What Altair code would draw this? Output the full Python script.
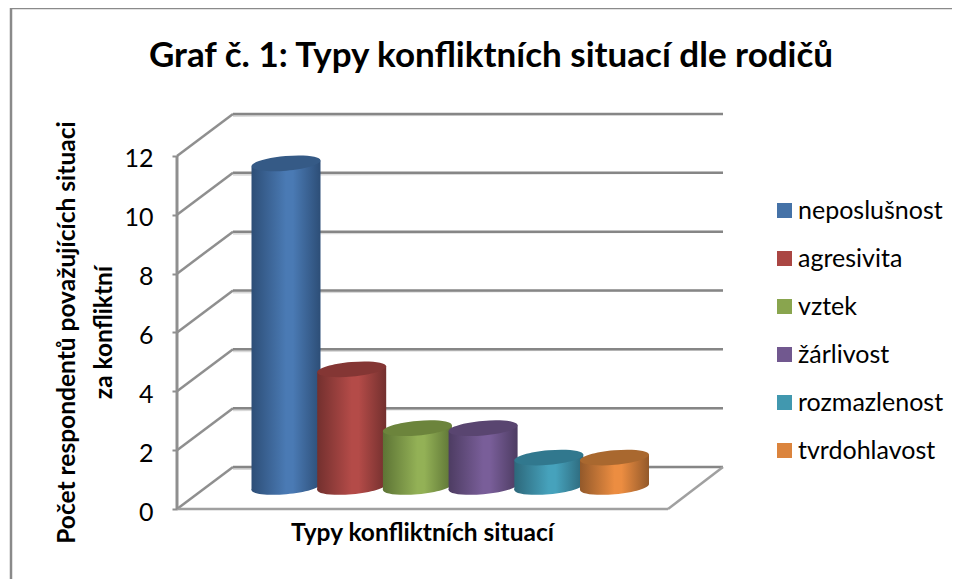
import altair as alt
import pandas as pd

title_text = "Graf č. 1: Typy konfliktních situací dle rodičů"
series = ["neposlušnost", "agresivita", "vztek", "žárlivost", "rozmazlenost", "tvrdohlavost"]
values = [11, 4, 2, 2, 1, 1]
legend_colors = ["#4572A7", "#AA4643", "#89A54E", "#71588F", "#4198AF", "#DB843D"]
edge_colors = ["#2d4e77", "#73302e", "#5d7435", "#4d3c62", "#2d687b", "#93592a"]
mid_colors = ["#4a7ab4", "#b44b48", "#93b156", "#795e99", "#46a2bc", "#ec8d41"]
top_colors = ["#355a86", "#843634", "#6c843c", "#594570", "#31788e", "#a9682f"]
ticks = [0, 2, 4, 6, 8, 10, 12]

# Scales: one x unit is one category step, one y unit is one respondent.
PX_X, PX_Y = 65.7, 29.42
VIEW_W, VIEW_H = 546, 395
X_DOMAIN = [0, VIEW_W / PX_X]
Y_DOMAIN = [0, VIEW_H / PX_Y]
DEPTH_X = 56 / PX_X
DEPTH_Y = 42 / PX_Y
FIRST = 109 / PX_X
RADIUS = 34.5 / PX_X
BASE = 22 / PX_Y
TILT = 3 / PX_Y
FLOOR_RIGHT = 491 / PX_X
WALL_RIGHT = VIEW_W / PX_X

GRID = "#868686"
FONT = "Lato"

y_axis = alt.Axis(
    values=ticks, domain=False, grid=False, tickColor="#8f8f8f", tickSize=5, tickWidth=2,
    labelFont=FONT, labelFontSize=25, labelColor="#000000", labelPadding=19, labelOffset=3,
    title=["Počet respondentů považujících situaci", "za konfliktní"],
    titleFont=FONT, titleFontSize=24.5, titleFontWeight="bold", titleColor="#000000",
    titleX=-110, titleY=218, titleLineHeight=37, titleAngle=270, titleAlign="center", titleBaseline="middle",
)
x_axis = alt.Axis(
    values=[0], domain=False, grid=False, ticks=False, labels=False,
    title="Typy konfliktních situací",
    titleFont=FONT, titleFontSize=24.5, titleFontWeight="bold", titleColor="#000000",
    titleX=245, titleY=24, titleAlign="center", titleBaseline="middle",
)

xs = alt.Scale(domain=X_DOMAIN, nice=False, zero=False)
ys = alt.Scale(domain=Y_DOMAIN, nice=False, zero=False)
X = alt.X("x:Q", scale=xs, axis=x_axis)
Y = alt.Y("y:Q", scale=ys, axis=y_axis)
X2 = alt.X2("x2:Q")
Y2 = alt.Y2("y2:Q")

frame = alt.Chart(pd.DataFrame({"a": [1]})).mark_rect(
    fill="transparent", stroke="#8a8a8a", strokeWidth=2.5
).encode(x=alt.value(-166), x2=alt.value(800), y=alt.value(-106), y2=alt.value(500))

title_mark = alt.Chart(pd.DataFrame({"t": [title_text]})).mark_text(
    font=FONT, fontSize=35, fontWeight="bold", color="#000000", align="center", baseline="middle"
).encode(text="t:N", x=alt.value(314), y=alt.value(-58))

wall_rows = [{"x": DEPTH_X, "x2": WALL_RIGHT, "y": t + DEPTH_Y, "y2": t + DEPTH_Y} for t in ticks]
side_rows = [{"x": 0, "x2": DEPTH_X, "y": t, "y2": t + DEPTH_Y} for t in ticks]
axis_rows = [{"x": 0, "x2": 0, "y": 0, "y2": 12}]
floor_rows = [
    {"x": 0, "x2": FLOOR_RIGHT, "y": 0, "y2": 0},
    {"x": FLOOR_RIGHT, "x2": WALL_RIGHT, "y": 0, "y2": DEPTH_Y},
]

wall_shadow = alt.Chart(pd.DataFrame(wall_rows)).mark_rule(
    color="#d9d9d9", strokeWidth=2, yOffset=2
).encode(x=X, x2=X2, y=Y, y2=Y2)
wall = alt.Chart(pd.DataFrame(wall_rows)).mark_rule(color=GRID, strokeWidth=2.5).encode(x=X, x2=X2, y=Y, y2=Y2)
side = alt.Chart(pd.DataFrame(side_rows)).mark_rule(color="#8f8f8f", strokeWidth=2.5).encode(x=X, x2=X2, y=Y, y2=Y2)
floor = alt.Chart(pd.DataFrame(floor_rows)).mark_rule(color="#a0a0a0", strokeWidth=2.5).encode(x=X, x2=X2, y=Y, y2=Y2)
axis_line = alt.Chart(pd.DataFrame(axis_rows)).mark_rule(color="#8f8f8f", strokeWidth=3).encode(x=X, x2=X2, y=Y, y2=Y2)

centers = [FIRST + i for i in range(len(series))]
legend_df = pd.DataFrame({"x": centers, "y": [BASE + v / 2 for v in values], "série": series})
legend_marks = alt.Chart(legend_df).mark_point(filled=True, shape="square", size=100, opacity=1).encode(
    x=X, y=Y,
    color=alt.Color("série:N", sort=series,
                    scale=alt.Scale(domain=series, range=legend_colors),
                    legend=alt.Legend(
                        orient="none", legendX=595, legendY=84, title=None,
                        symbolType="square", symbolSize=225, symbolStrokeWidth=0, symbolOpacity=1,
                        labelFont=FONT, labelFontSize=25, labelColor="#000000", labelOffset=1,
                        rowPadding=22, labelLimit=200)),
)

ELLIPSE = "M-1,0.086A1,0.21,-5,1,1,1,-0.086A1,0.21,-5,1,1,-1,0.086Z"


def gradient(edge, mid):
    return alt.Gradient(
        gradient="linear", x1=0, x2=1, y1=0, y2=0,
        stops=[
            alt.GradientStop(color=edge, offset=0),
            alt.GradientStop(color=mid, offset=0.5),
            alt.GradientStop(color=mid, offset=0.6),
            alt.GradientStop(color=edge, offset=1),
        ],
    )


cylinders = []
for name, v, c, edge, mid, top in zip(series, values, centers, edge_colors, mid_colors, top_colors):
    fill = gradient(edge, mid)
    body = pd.DataFrame({
        "x": [c - RADIUS, c + RADIUS],
        "y": [BASE + v - TILT, BASE + v + TILT],
        "y2": [BASE - TILT, BASE + TILT],
    })
    bottom = pd.DataFrame({"x": [c], "y": [BASE]})
    cap = pd.DataFrame({"x": [c], "y": [BASE + v]})
    size = (2 * 34.5) ** 2
    cylinders.append(alt.Chart(bottom).mark_point(filled=True, shape=ELLIPSE, size=size, opacity=1, fill=fill, stroke=None).encode(x=X, y=Y))
    cylinders.append(alt.Chart(body).mark_area(fill=fill, opacity=1).encode(x=X, y=Y, y2=Y2))
    cylinders.append(alt.Chart(cap).mark_point(filled=True, shape=ELLIPSE, size=size, opacity=1, fill=top, stroke=None).encode(x=X, y=Y))

chart = alt.layer(
    frame, title_mark, wall_shadow, wall, side, floor, axis_line, legend_marks, *cylinders
).properties(
    width=VIEW_W, height=VIEW_H,
    autosize=alt.AutoSizeParams(type="none"),
    padding={"left": 169, "top": 106, "right": 229, "bottom": 70},
    background="#ffffff",
).configure_view(stroke=None)

chart.save("out.html", embed_options={"renderer": "svg", "actions": False})
